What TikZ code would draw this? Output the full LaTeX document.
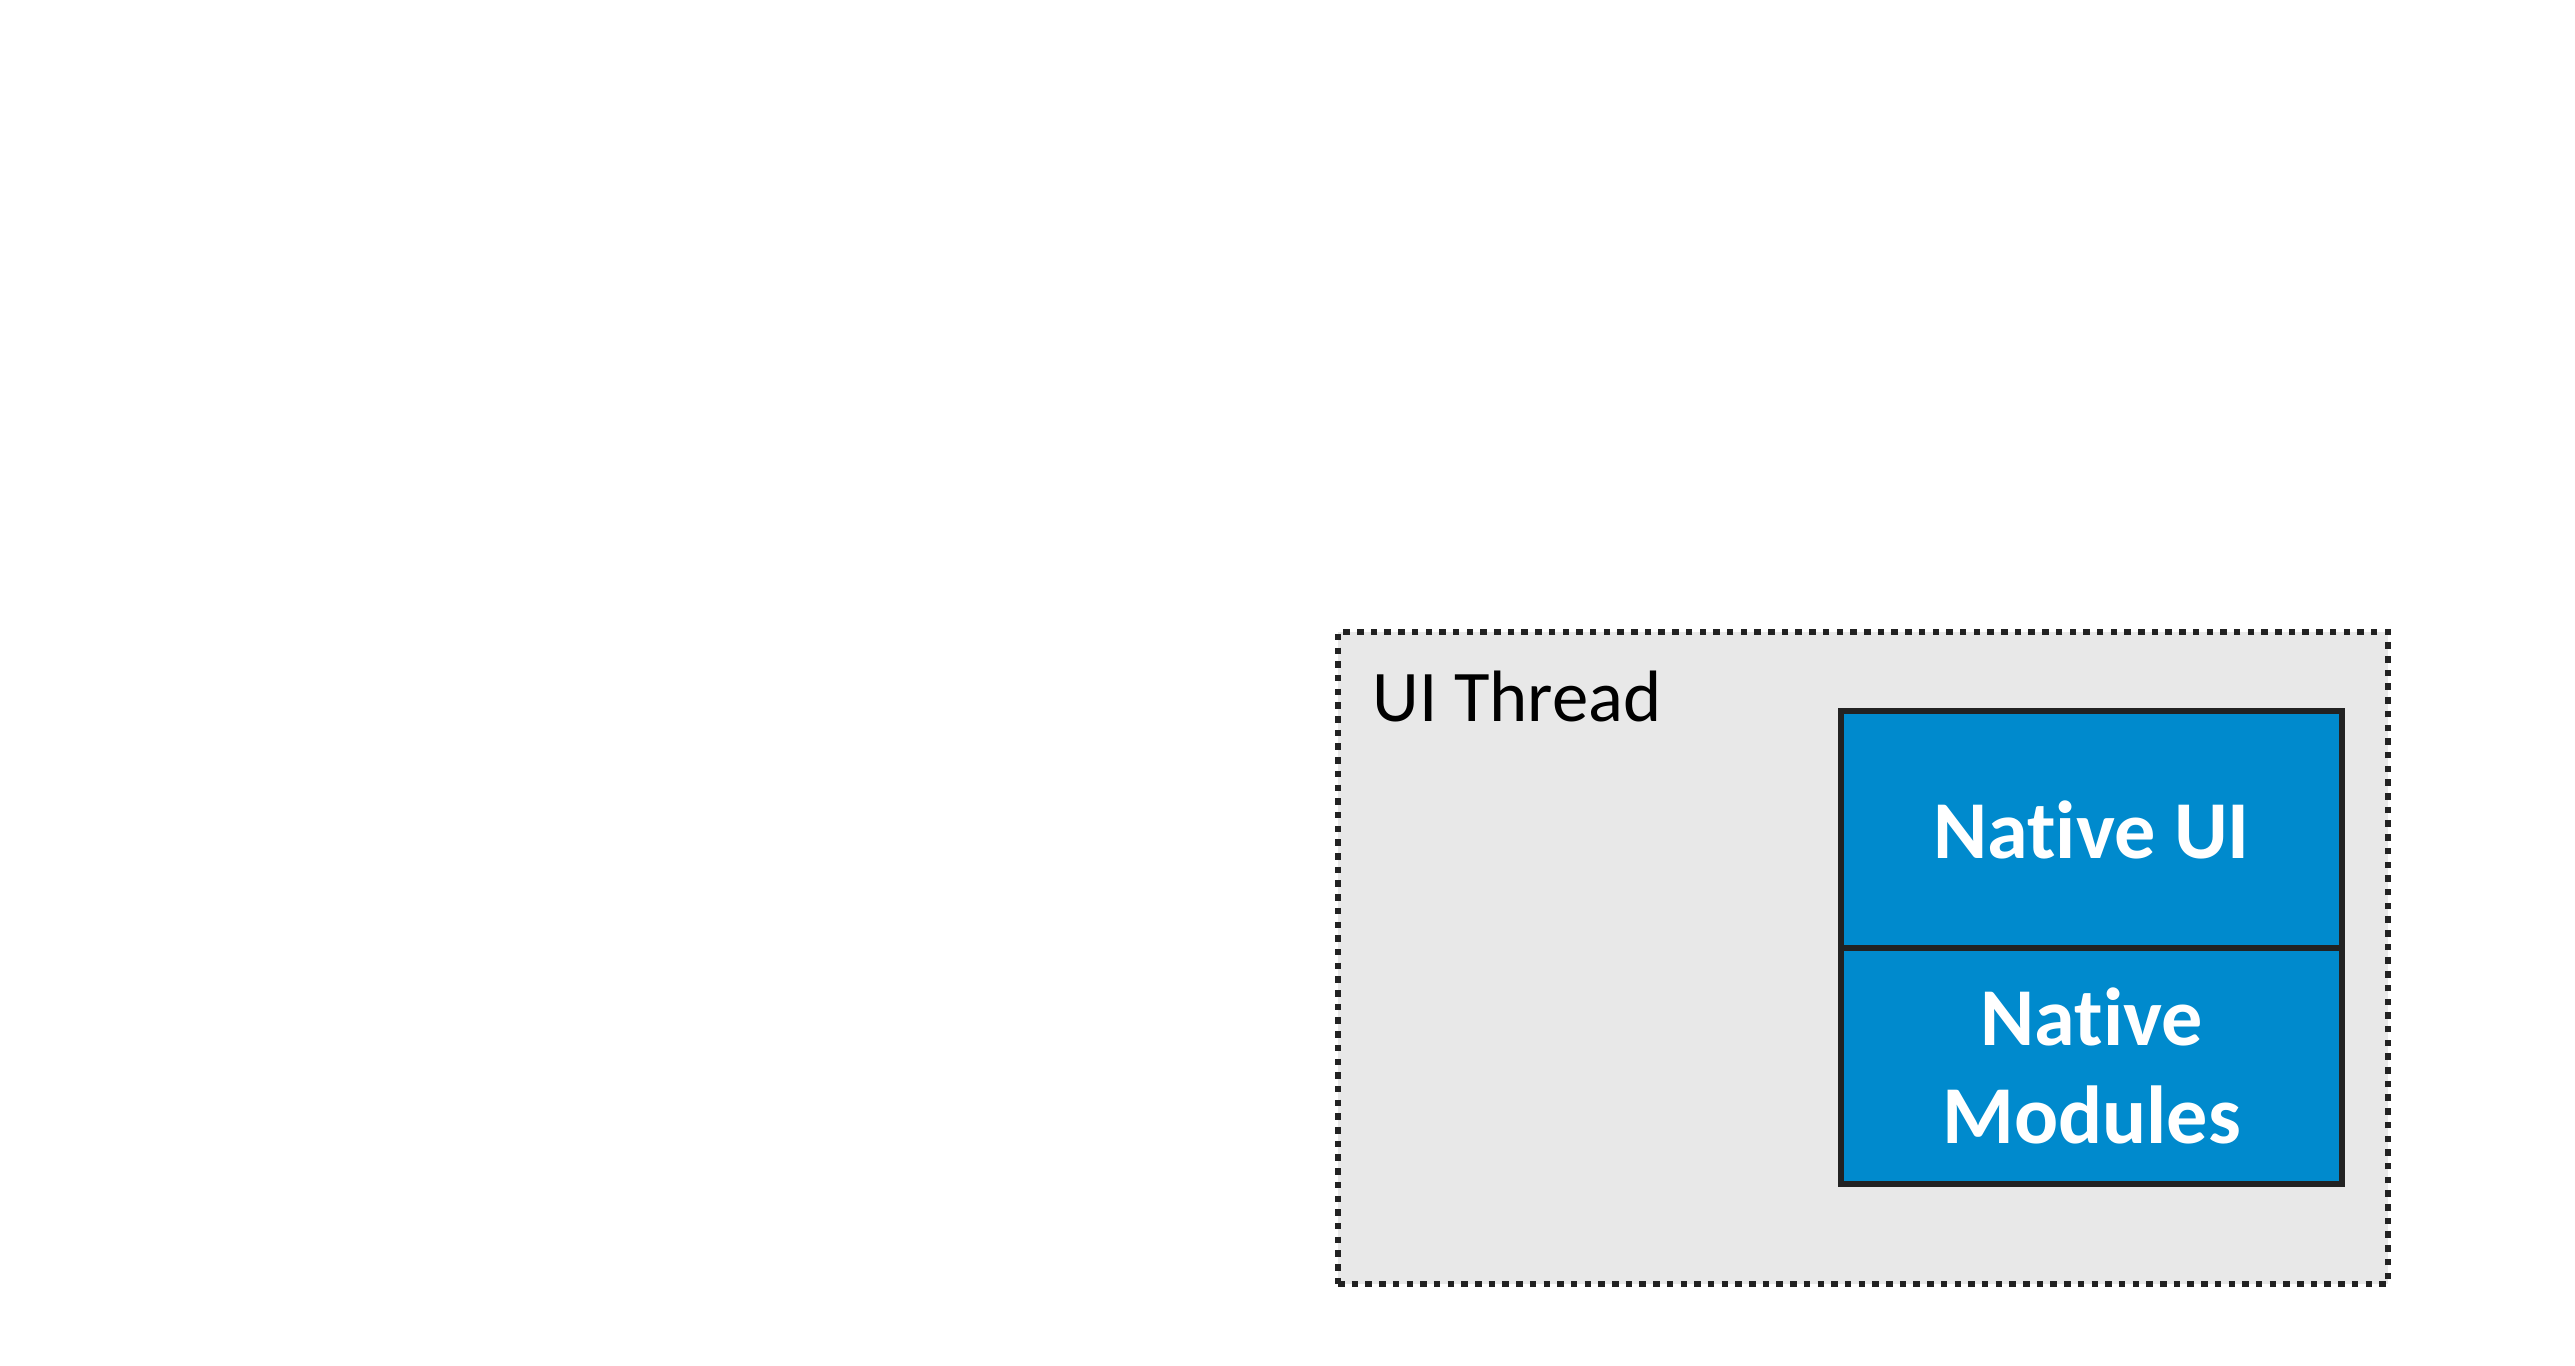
\documentclass[tikz,border=0pt]{standalone}
\usepackage{fontspec}
\setmainfont{Carlito}[Ligatures=NoCommon]
\definecolor{threadgrey}{HTML}{E8E8E8}
\definecolor{nativeblue}{HTML}{008ACD}
\definecolor{edgedark}{HTML}{222222}
\begin{document}
\begin{tikzpicture}
\useasboundingbox (0,0) rectangle (25.75,13.65);
\tikzset{
  threadbox/.style={draw=edgedark, fill=threadgrey, line width=0.06cm,
    dash pattern=on 0.065cm off 0.072cm, minimum width=10.5cm, minimum height=6.52cm,
    inner sep=0, outer sep=0},
  nativebox/.style={draw=edgedark, fill=nativeblue, line width=0.065cm,
    minimum width=5.01cm, inner sep=0, outer sep=0, text=white, align=center,
    font=\fontsize{23.4}{27.8}\selectfont\bfseries},
  threadlabel/.style={inner sep=0, anchor=base west, font=\fontsize{20.7}{25}\selectfont}
}
\node[threadbox] (ui) at (18.63,4.07) {};
\node[threadlabel] (uilabel) at (13.72,6.43) {UI Thread};
\node[nativebox, minimum height=2.36cm] (mods) at (20.915,2.99) {Native\\Modules};
\node[nativebox, minimum height=2.37cm] (nui) at (20.915,5.355) {Native UI};
\end{tikzpicture}
\end{document}
